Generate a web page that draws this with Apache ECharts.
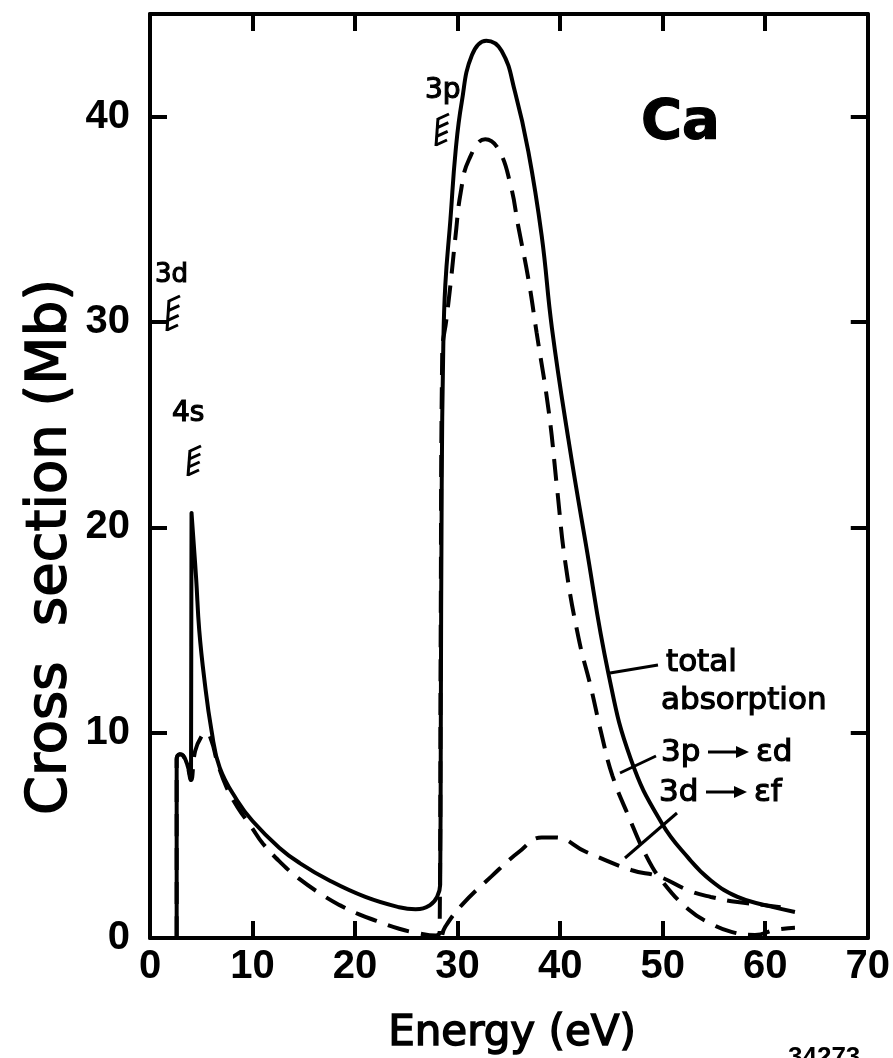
<!DOCTYPE html>
<html>
<head>
<meta charset="utf-8">
<script src="https://cdn.jsdelivr.net/npm/echarts@6/dist/echarts.min.js"></script>
<style>
html,body{margin:0;padding:0;background:#fff;}
#chart{width:893px;height:1058px;}
</style>
</head>
<body>
<div id="chart"></div>
<script>
// ---- data (energy eV, cross section Mb) ----
const xTickValues = [0, 10, 20, 30, 40, 50, 60, 70];
const yTickValues = [0, 10, 20, 30, 40];

const totalAbsorption = [
  [2.6,0],[2.6,8.7],[2.9,8.95],[3.2,8.9],[3.6,8.5],[4.0,7.7],[4.05,20.7],[4.5,17.5],[4.8,15.0],
  [5.3,12.6],[6.0,10.1],[6.8,8.3],[8.5,6.7],[10.0,5.7],[12.6,4.4],[14.6,3.65],[17.5,2.8],[21.0,2.0],
  [24.3,1.5],[25.9,1.4],[27.3,1.6],[28.0,2.0],[28.3,2.6],[28.36,10],[28.45,22],[28.6,28.7],[28.8,31.8],
  [29.3,35.0],[29.8,38.3],[30.4,40.7],[31.4,43.0],[32.8,43.7],[34.3,43.2],[35.6,41.2],[36.9,38.3],
  [38.2,34.2],[39.2,29.7],[40.8,24.3],[42.5,19.2],[44.7,12.9],[46.9,8.7],[49.9,5.6],[52.5,3.9],
  [54.7,2.8],[57.3,2.0],[60.0,1.6],[62.9,1.27]
];

const partial3pEd = [
  [2.6,0],[2.6,8.7],[2.9,8.95],[3.2,8.9],[3.6,8.5],[4.0,7.7],[4.4,9.1],[5.0,9.8],[5.5,10.0],[6.0,9.6],
  [6.6,8.5],[7.5,7.3],[8.5,6.4],[9.9,5.4],[11.0,4.6],[12.9,3.6],[14.5,2.9],[16.8,2.1],[18.5,1.6],
  [20.4,1.15],[22.0,0.85],[24.3,0.45],[26.0,0.25],[27.9,0.12],[28.25,0.3],[28.35,15],[28.5,28.5],
  [28.9,30.1],[29.3,31.8],[29.8,34.2],[30.3,36.3],[31.1,37.9],[32.7,38.9],[34.0,38.4],[35.2,36.6],
  [35.9,34.7],[36.9,32.1],[37.7,29.5],[38.9,25.6],[39.7,21.9],[40.5,18.3],[41.8,14.6],[43.0,12.2],
  [44.0,10.0],[45.1,7.9],[46.7,5.9],[48.4,4.0],[49.9,2.8],[52.5,1.4],[54.7,0.7],[56.7,0.3],
  [59.0,0.15],[61.0,0.4],[62.9,0.5]
];

const partial3dEf = [
  [28.5,0.15],[28.8,0.55],[30.4,1.6],[33.3,3.0],[36.0,4.2],[38.2,4.9],[39.5,4.9],[42.5,4.2],
  [47.0,3.3],[49.6,3.0],[52.6,2.3],[54.7,2.0],[57.3,1.75],[60.0,1.6],[61.5,1.5]
];

const seriesNames = ['total absorption', '3p ⟶ εd', '3d ⟶ εf'];

// ---- chart ----
const chart = echarts.init(document.getElementById('chart'), null, {renderer: 'canvas'});
const BLACK = '#000';
const tickFont = '"Liberation Sans", Arial, sans-serif';

function frameAxis(extra) {
  return Object.assign({
    type: 'value',
    interval: 10,
    axisLine: {show: true, onZero: false, lineStyle: {color: BLACK, width: 4}},
    axisTick: {show: true, inside: true, length: 17, lineStyle: {color: BLACK, width: 4}},
    splitLine: {show: false},
    axisLabel: {show: false}
  }, extra);
}

function hatch(x, y, h, n) {
  const els = [{type: 'line', shape: {x1: x, y1: y, x2: x - 2, y2: y + h}, style: {stroke: BLACK, lineWidth: 3}}];
  for (let i = 0; i < n; i++) {
    const t = i / (n - 1);
    const xi = x - 2 * t, yi = y + 1 + t * (h - 2);
    els.push({type: 'line', shape: {x1: xi, y1: yi, x2: xi + 11, y2: yi - 5}, style: {stroke: BLACK, lineWidth: 3}});
  }
  return els;
}

// x, baseline, size : text is top-anchored, so shift by ~0.82 em
function txt(text, x, baseline, size, opts) {
  return {
    type: 'text', x: x, y: Math.round(baseline - 0.82 * size),
    style: Object.assign({
      text: text, fill: BLACK,
      font: 'normal ' + size + 'px "DejaVu Sans"',
      align: 'left', verticalAlign: 'top',
      stroke: BLACK, lineWidth: 1.2
    }, opts || {})
  };
}

const graphics = [].concat(
  hatch(438, 118, 28, 4),
  hatch(169, 300, 31, 4),
  hatch(190, 450, 26, 4),
  [
    txt('3p', 425, 100, 28),
    txt('3d', 155, 283, 26),
    txt('4s', 172, 423, 28),
    txt('Ca', 641, 141, 56, {font: 'bold 56px "DejaVu Sans"'}),
    txt('total', 666, 672, 31),
    txt('absorption', 661, 710, 31),
    txt('3p', 661, 762, 31),
    txt('εd', 756, 762, 31),
    txt('3d', 659, 802, 31),
    txt('εf', 754, 802, 31),
    // arrows
    {type: 'line', shape: {x1: 708, y1: 752, x2: 738, y2: 752}, style: {stroke: BLACK, lineWidth: 3}},
    {type: 'polygon', shape: {points: [[736, 746], [749, 752], [736, 758]]}, style: {fill: BLACK}},
    {type: 'line', shape: {x1: 706, y1: 792, x2: 736, y2: 792}, style: {stroke: BLACK, lineWidth: 3}},
    {type: 'polygon', shape: {points: [[734, 786], [747, 792], [734, 798]]}, style: {fill: BLACK}},
    // leader lines
    {type: 'line', shape: {x1: 610, y1: 673, x2: 658, y2: 665}, style: {stroke: BLACK, lineWidth: 3}},
    {type: 'line', shape: {x1: 620, y1: 773, x2: 656, y2: 756}, style: {stroke: BLACK, lineWidth: 3}},
    {type: 'line', shape: {x1: 625, y1: 858, x2: 677, y2: 813}, style: {stroke: BLACK, lineWidth: 3}},
    // axis titles
    {type: 'text', x: 50, y: 547, rotation: Math.PI / 2,
      style: {text: 'Cross  section (Mb)', fill: BLACK, stroke: BLACK, lineWidth: 1.5,
        font: 'normal 56px "DejaVu Sans"', align: 'center', verticalAlign: 'middle'}},
    {type: 'text', x: 512, y: 1034,
      style: {text: 'Energy (eV)', fill: BLACK, stroke: BLACK, lineWidth: 1.5,
        font: 'normal 42px "DejaVu Sans"', align: 'center', verticalAlign: 'middle'}},
    txt('34273', 788, 1066, 26, {font: 'bold 26px "Liberation Sans"', lineWidth: 0})
  ]
);

const tickStyle = {show: true, inside: true, length: 17, lineStyle: {color: BLACK, width: 4}};
const labelStyle = {show: true, color: BLACK, fontFamily: tickFont, fontWeight: 'bold', fontSize: 40};

const option = {
  animation: false,
  backgroundColor: '#fff',
  grid: {left: 150, right: 23, top: 14, bottom: 120},
  xAxis: [
    frameAxis({
      position: 'bottom', min: 0, max: 70,
      axisTick: Object.assign({}, tickStyle, {customValues: xTickValues.slice(1, -1)}),
      axisLabel: Object.assign({}, labelStyle, {customValues: xTickValues, margin: 9})
    }),
    frameAxis({position: 'top', min: 0, max: 70,
      axisTick: Object.assign({}, tickStyle, {customValues: xTickValues.slice(1, -1)})})
  ],
  yAxis: [
    frameAxis({
      position: 'left', min: 0, max: 45,
      axisTick: Object.assign({}, tickStyle, {customValues: yTickValues.slice(1)}),
      axisLabel: Object.assign({}, labelStyle, {customValues: yTickValues, margin: 20})
    }),
    frameAxis({position: 'right', min: 0, max: 45,
      axisTick: Object.assign({}, tickStyle, {customValues: yTickValues.slice(1)})})
  ],
  series: [
    {name: seriesNames[0], type: 'line', data: totalAbsorption, showSymbol: false, symbol: 'none',
      smooth: 0.45, lineStyle: {color: BLACK, width: 4}, z: 3},
    {name: seriesNames[1], type: 'line', data: partial3pEd, showSymbol: false, symbol: 'none',
      smooth: 0.45, lineStyle: {color: BLACK, width: 4, type: [22, 12]}, z: 2},
    {name: seriesNames[2], type: 'line', data: partial3dEf, showSymbol: false, symbol: 'none',
      smooth: 0.45, lineStyle: {color: BLACK, width: 4, type: [22, 12]}, z: 2}
  ],
  graphic: graphics
};
chart.setOption(option);
</script>
</body>
</html>
